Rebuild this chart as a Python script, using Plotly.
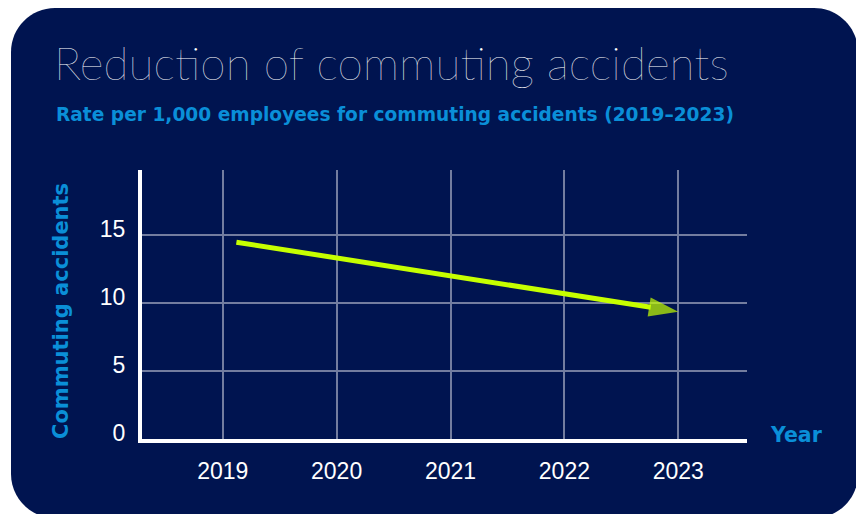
import plotly.graph_objects as go

# Figure geometry (pixels)
W, H = 856, 514
ML, MR, MT, MB = 142, 109, 170, 75
PW, PH = W - ML - MR, H - MT - MB

# Data
years = [2019, 2020, 2021, 2022, 2023]
year_labels = ["2019", "2020", "2021", "2022", "2023"]
y_ticks = [0, 5, 10, 15]
y_tick_labels = ["0", "5", "10", "15"]
trend_x = [2019.12, 2023.0]
trend_y = [14.45, 9.35]

NAVY = "#001450"
LIME = "#c6ff00"
BLUE = "#0a8fd8"
GRID = "#737d9f"


def fx(x):
    return (x - ML) / PW


def fy(y):
    return (H - MB - y) / PH


def rounded_rect(x0, y0, x1, y1, r):
    k = 0.5523 * r
    pts = [
        f"M{fx(x0 + r)},{fy(y0)}",
        f"L{fx(x1 - r)},{fy(y0)}",
        f"C{fx(x1 - r + k)},{fy(y0)} {fx(x1)},{fy(y0 + r - k)} {fx(x1)},{fy(y0 + r)}",
        f"L{fx(x1)},{fy(y1 - r)}",
        f"C{fx(x1)},{fy(y1 - r + k)} {fx(x1 - r + k)},{fy(y1)} {fx(x1 - r)},{fy(y1)}",
        f"L{fx(x0 + r)},{fy(y1)}",
        f"C{fx(x0 + r - k)},{fy(y1)} {fx(x0)},{fy(y1 - r + k)} {fx(x0)},{fy(y1 - r)}",
        f"L{fx(x0)},{fy(y0 + r)}",
        f"C{fx(x0)},{fy(y0 + r - k)} {fx(x0 + r - k)},{fy(y0)} {fx(x0 + r)},{fy(y0)}",
        "Z",
    ]
    return " ".join(pts)


fig = go.Figure()

fig.add_trace(go.Scatter(
    x=trend_x,
    y=trend_y,
    mode="lines+markers",
    line=dict(color=LIME, width=5),
    marker=dict(symbol="arrow", size=[0, 31], angleref="previous",
                color=LIME, line=dict(width=0)),
    hoverinfo="skip",
    showlegend=False,
    cliponaxis=False,
))

fig.add_shape(
    type="path",
    path=rounded_rect(11, 8, 858, 518, 44),
    xref="paper", yref="paper",
    fillcolor=NAVY, line=dict(width=0),
    layer="below",
)

fig.add_annotation(
    text="Reduction of commuting accidents",
    xref="paper", yref="paper", x=fx(52), y=fy(63),
    xanchor="left", yanchor="middle", showarrow=False,
    font=dict(family="Lato", size=46, color="white", weight=200),
)
fig.add_annotation(
    text="Rate per 1,000 employees for commuting accidents (2019–2023)",
    xref="paper", yref="paper", x=fx(54), y=fy(114),
    xanchor="left", yanchor="middle", showarrow=False,
    font=dict(family="DejaVu Sans", size=18.6, color=BLUE, weight=700),
)
fig.add_annotation(
    text="Commuting accidents",
    xref="paper", yref="paper", x=fx(61), y=fy(311),
    xanchor="center", yanchor="middle", showarrow=False, textangle=-90,
    font=dict(family="DejaVu Sans", size=21, color=BLUE, weight=700),
)
fig.add_annotation(
    text="Year",
    xref="paper", yref="paper", x=fx(768), y=fy(435),
    xanchor="left", yanchor="middle", showarrow=False,
    font=dict(family="DejaVu Sans", size=20.5, color=BLUE, weight=700),
)

fig.update_xaxes(
    range=[2019 - 80.7 / 113.83, 2023 + 68.7 / 113.83],
    tickmode="array", tickvals=years, ticktext=year_labels,
    showgrid=True, gridcolor=GRID, gridwidth=1.5,
    showline=True, linecolor="white", linewidth=4,
    zeroline=False, ticks="", ticklabelstandoff=8,
    tickfont=dict(family="Liberation Sans", size=23, color="white"),
    fixedrange=True,
)
fig.update_yaxes(
    range=[0, 19.75],
    tickmode="array", tickvals=y_ticks, ticktext=y_tick_labels,
    showgrid=True, gridcolor=GRID, gridwidth=1.5,
    showline=True, linecolor="white", linewidth=4,
    zeroline=False, ticks="", ticklabelstandoff=8, ticklabelshift=-6,
    tickfont=dict(family="Liberation Sans", size=23, color="white"),
    fixedrange=True,
)

fig.update_layout(
    width=W, height=H,
    margin=dict(l=ML, r=MR, t=MT, b=MB, pad=0),
    paper_bgcolor="white",
    plot_bgcolor="rgba(0,0,0,0)",
    showlegend=False,
)

fig.write_html("out.html")
